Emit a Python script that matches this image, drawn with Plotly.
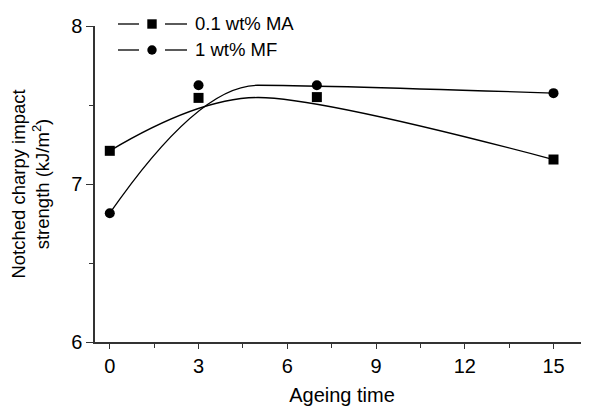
import plotly.graph_objects as go

ageing_time = [0, 3, 7, 15]
ma_values = [7.21, 7.545, 7.55, 7.155]
mf_values = [6.815, 7.625, 7.625, 7.575]
series_names = ["0.1 wt% MA", "1 wt% MF"]
series_symbols = ["square", "circle"]
x_ticks = [0, 3, 6, 9, 12, 15]
y_ticks = [6, 7, 8]

# The page body has an 8px default margin, so the figure is drawn 8px smaller
OFF = 8
W, H = 589 - OFF, 406 - OFF
# plot area in figure pixels
L, R, T, B = 95 - OFF, 589 - OFF, 26 - OFF, 342 - OFF

def px_x(p):  # page pixel -> paper coordinate
    return (p - OFF - L) / (R - L)

def px_y(p):
    return (B - (p - OFF)) / (B - T)

def bspline_path(xs, ys):
    # quadratic clamped B-spline (Origin-style) using the data points as control points
    mx = (xs[1] + xs[2]) / 2
    my = (ys[1] + ys[2]) / 2
    return (f"M {xs[0]},{ys[0]} Q {xs[1]},{ys[1]} {mx},{my} "
            f"Q {xs[2]},{ys[2]} {xs[3]},{ys[3]}")

fig = go.Figure()
shapes = []
for vals in (ma_values, mf_values):
    shapes.append(dict(type="path", path=bspline_path(ageing_time, vals),
                       xref="x", yref="y", line=dict(color="black", width=1.3),
                       layer="above"))

fig.add_trace(go.Scatter(x=ageing_time, y=ma_values, mode="markers",
                         marker=dict(symbol="square", size=10, color="black"),
                         showlegend=False))
fig.add_trace(go.Scatter(x=ageing_time, y=mf_values, mode="markers",
                         marker=dict(symbol="circle", size=10, color="black"),
                         showlegend=False))

# hand-drawn legend: line — marker — line, then text
annotations = []
legend_rows = [24, 50]
for name, sym, row in zip(series_names, series_symbols, legend_rows):
    yy = px_y(row)
    for a, b in ((118, 139), (165, 187)):
        shapes.append(dict(type="line", xref="paper", yref="paper",
                           x0=px_x(a), x1=px_x(b), y0=yy, y1=yy,
                           line=dict(color="black", width=1.3)))
    shapes.append(dict(type="rect" if sym == "square" else "circle",
                       xref="paper", yref="paper",
                       xsizemode="pixel", ysizemode="pixel",
                       xanchor=px_x(152), yanchor=yy,
                       x0=-4.7, x1=4.7, y0=-4.7, y1=4.7,
                       fillcolor="black", line=dict(width=0)))
    annotations.append(dict(text=name, xref="paper", yref="paper",
                            x=px_x(193), y=yy, xanchor="left", yanchor="middle",
                            showarrow=False, font=dict(size=18.5)))

axis_common = dict(showline=True, linecolor="#333", linewidth=1.5, ticks="outside",
                   tickwidth=1.3, tickcolor="#333", showgrid=False,
                   zeroline=False, mirror=False, automargin=False)
fig.update_layout(
    width=W, height=H,
    margin=dict(l=L, r=W - R, t=T, b=H - B),
    paper_bgcolor="white", plot_bgcolor="white",
    font=dict(family="Liberation Sans, Arial", color="black"),
    shapes=shapes, annotations=annotations, showlegend=False,
    xaxis=dict(range=[-0.5, 16.2], tickvals=x_ticks, tickfont=dict(size=20),
               ticklen=5,
               title=dict(text="Ageing time", font=dict(size=20), standoff=12),
               minor=dict(tickvals=[1.5, 4.5, 7.5, 10.5, 13.5], ticklen=4,
                          tickcolor="#333", ticks="outside"),
               **axis_common),
    yaxis=dict(range=[6, 8], tickvals=y_ticks, tickfont=dict(size=20),
               ticklen=7,
               title=dict(text="Notched charpy impact<br>strength (kJ/m<sup>2</sup>)",
                          font=dict(size=18.5), standoff=22),
               minor=dict(tickvals=[6.5, 7.5], ticklen=4, tickcolor="#333",
                          ticks="outside"),
               **axis_common),
)
fig.write_html("out.html")
